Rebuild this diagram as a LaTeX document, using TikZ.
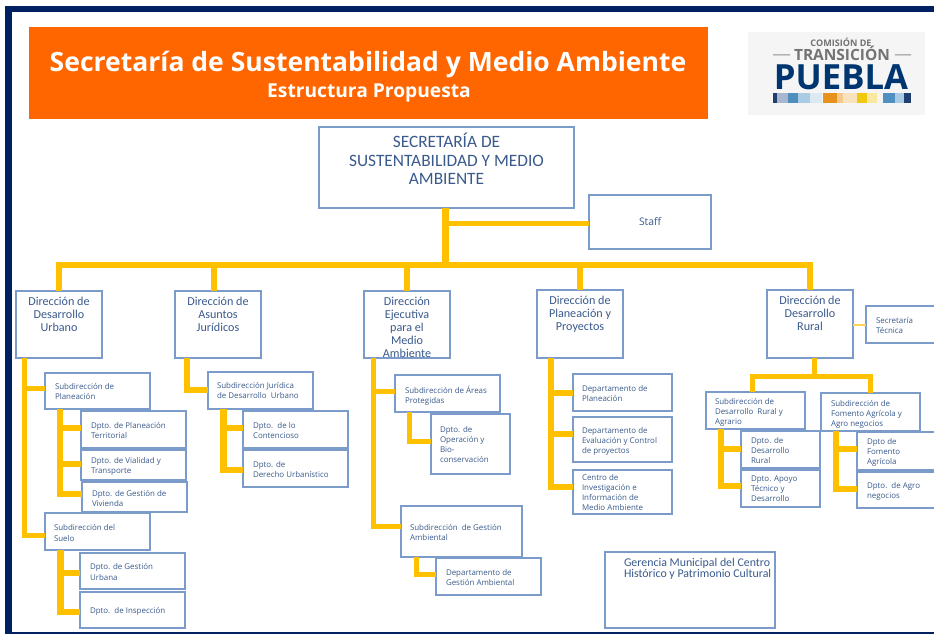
\documentclass[tikz,border=0pt]{standalone}
\usepackage{fontspec}
\setmainfont{Open Sans}
\newfontfamily\osans{Open Sans}
\newfontfamily\carl{Carlito}
\newlength\px \setlength\px{0.75pt}
\definecolor{navy}{HTML}{002060}
\definecolor{gold}{HTML}{FFC000}
\definecolor{bord}{HTML}{7B9CCB}
\definecolor{ink}{HTML}{3A5A8C}
\definecolor{banner}{HTML}{FF6600}
\tikzset{
  boxbase/.style={draw=bord,line width=1.2*\px,fill=white,inner sep=0pt,outer sep=0pt,anchor=north west,text=ink},
  small/.style={boxbase,font={\osans\fontsize{5.95}{7.5}\selectfont}},
  staffbox/.style={boxbase,font={\osans\fontsize{7.8}{9}\selectfont}},
  direc/.style={boxbase,font={\carl\fontsize{9.1}{9.85}\selectfont}},
  head/.style={boxbase,font={\carl\fontsize{13}{13.9}\selectfont}},
  geren/.style={boxbase,font={\carl\fontsize{8.9}{8.8}\selectfont}},
  bar/.style={draw=gold,line width=5*\px},
  barw/.style={draw=gold,line width=6.5*\px},
  barthin/.style={draw=gold!70,line width=2*\px},
  logotxt/.style={inner sep=0pt},
}
% [style]{name}{x1}{y1}{x2}{y2}{text x offset}{text y offset}{text}
\newcommand\bx[9][small]{%
  \node[#1] (#2) at (#3,#4) {\parbox[t][\dimexpr\numexpr#6-#4\relax\px\relax][t]{\dimexpr\numexpr#5-#3\relax\px\relax}{%
    \vspace*{#8\px}\raggedright\leftskip=#7\px\relax #9}};}
% [style]{from}{dx along its lower edge}{to}{dy down its left edge}
\newcommand\tie[5][bar]{\draw[#1] ([shift={(#3,0)}]#2.south west) |- ([shift={(0,#5)}]#4.north west);}
\begin{document}
\begin{tikzpicture}[x=0.75pt,y=-0.75pt]
\useasboundingbox (0,0) rectangle (934,634);
\fill[white] (0,0) rectangle (934,634);
% frame
\fill[navy] (5,6) rectangle (934,12.5);
\fill[navy] (5,6) rectangle (12,634);
\fill[navy] (5,631.5) rectangle (934,633.5);
% banner
\node[fill=banner,minimum width=679*\px,minimum height=92*\px,inner sep=0pt,anchor=north west] (banner) at (29,27) {};
\node[text=white,inner sep=0pt,anchor=base,font={\osans\bfseries\fontsize{19.9}{22}\selectfont}] (title) at (368,71.5) {Secretaría de Sustentabilidad y Medio Ambiente};
\node[text=white,inner sep=0pt,anchor=base,font={\osans\bfseries\fontsize{14.4}{16}\selectfont}] (subtitle) at (369,98) {Estructura Propuesta};
% logo
\fill[black!4] (748,32) rectangle (925,115);
\node[logotxt,text=black!55,anchor=base,font={\osans\bfseries\fontsize{6.8}{7}\selectfont}] (lg1) at (841,46.5) {COMISIÓN DE};
\node[logotxt,text=black!55,anchor=base,font={\osans\bfseries\fontsize{11.6}{13}\selectfont}] (lg2) at (842,60.5) {TRANSICIÓN};
\fill[black!45] (773,54.5) rectangle (790,55.5) (895,54.5) rectangle (911,55.5);
\node[logotxt,text=navy!90!cyan,anchor=base,font={\osans\bfseries\fontsize{26}{27}\selectfont}] (lg3) at (841,90) {PUEBLA};
\foreach \a/\b/\c in {773/777/1F3F6E,777/788/A8B6D0,788/798/4F8FC0,798/810/A9CBE3,810/822/DCE9F2,823/837/E8921E,837/843/F5C88E,843/857/F9E2BE,857/867/F2C80F,867/877/F9E9A0,883/895/5090C0,895/904/A9CBE3,904/911/1F3F6E}{
  \definecolor{tmpc}{HTML}{\c}\fill[tmpc] (\a,93) rectangle (\b,103);}
% top
\bx[head]{sec}{319}{127}{574}{208}{0}{6}{\centering SECRETARÍA DE\\SUSTENTABILIDAD Y MEDIO\\AMBIENTE}
\bx[staffbox]{staff}{589}{195}{711}{249}{50}{23}{Staff}
% direcciones
\bx[direc]{dirU}{16}{291}{102}{358}{0}{6}{\centering Dirección de\\Desarrollo\\Urbano}
\bx[direc]{dirA}{175}{291}{261}{358}{0}{6}{\centering Dirección de\\Asuntos\\Jurídicos}
\bx[direc]{dirE}{364}{291}{450}{358}{0}{6}{\centering Dirección\\Ejecutiva\\para el\\Medio\\Ambiente}
\bx[direc]{dirP}{537}{290}{623}{358}{0}{6}{\centering Dirección de\\Planeación y\\Proyectos}
\bx[direc]{dirR}{767}{290}{853}{358}{0}{6}{\centering Dirección de\\Desarrollo\\Rural}
\bx{st}{866}{306}{945}{343}{10}{11}{Secretaría\\Técnica}
% urbano
\bx{sa}{45}{373}{150}{409}{10}{10}{Subdirección de\\Planeación}
\bx{da}{81}{411}{186}{448}{10}{11}{Dpto. de Planeación\\Territorial}
\bx{db}{81}{450}{186}{480}{10}{7}{Dpto. de Vialidad y\\Transporte}
\bx{dc}{82}{482}{187}{512}{10}{8}{Dpto. de Gestión de\\Vivienda}
\bx{sb}{45}{513}{150}{550}{9}{11}{Subdirección del\\[1pt]Suelo}
\bx{dd}{80}{553}{185}{589}{10}{10}{Dpto. de Gestión\\[1pt]Urbana}
\bx{de}{80}{592}{185}{628}{10}{15}{Dpto.\ \ de Inspección}
% juridicos
\bx{sj}{208}{372}{313}{409}{9}{10}{Subdirección Jurídica\\de Desarrollo\ \ Urbano}
\bx{df}{243}{411}{348}{448}{10}{11}{Dpto.\ \ de lo\\Contencioso}
\bx{dg}{243}{450}{348}{487}{10}{11}{Dpto. de\\Derecho Urbanístico}
% ejecutiva
\bx{sc}{395}{375}{500}{412}{10}{11}{Subdirección de Áreas\\Protegidas}
\bx{dh}{431}{414}{510}{474}{9}{12}{Dpto. de\\Operación y\\Bio-\\conservación}
\bx{sd}{401}{506}{522}{557}{9}{18}{Subdirección\ \ de Gestión\\Ambiental}
\bx{di}{436}{558}{541}{595}{10}{11}{Departamento de\\Gestión Ambiental}
% planeacion
\bx{dj}{573}{374}{672}{411}{9}{11}{Departamento de\\Planeación}
\bx{dk}{573}{417}{672}{462}{9}{10}{Departamento de\\Evaluación y Control\\de proyectos}
\bx{dl}{573}{470}{672}{514}{9}{4}{Centro de\\Investigación e\\Información de\\Medio Ambiente}
\bx[geren]{ger}{605}{552}{775}{628}{19}{6}{Gerencia Municipal del Centro\\Histórico y Patrimonio Cultural}
% rural
\bx{se}{706}{392}{805}{429}{9}{6}{Subdirección de\\Desarrollo\ \ Rural y\\Agrario}
\bx{sf}{821}{393}{920}{431}{10}{7}{Subdirección de\\Fomento Agrícola y\\Agro negocios}
\bx{dm}{741}{431}{820}{468}{10}{6}{Dpto. de\\Desarrollo\\Rural}
\bx{dn}{741}{470}{820}{507}{10}{6}{Dpto. Apoyo\\Técnico y\\Desarrollo}
\bx{do}{857}{432}{945}{470}{10}{6}{Dpto de\\Fomento\\Agrícola}
\bx{dp}{857}{472}{945}{508}{10}{10}{Dpto.\ \ de Agro\\negocios}
% main connectors
\coordinate (bus) at (445,265);
\coordinate (bus2) at (814,376);
\draw[barw] ([xshift=-1.1*\px]sec.south) -- ([xshift=-1.1*\px]sec.south |- bus);
\draw[bar] ([xshift=-1.1*\px,yshift=-16*\px]sec.south) |- ([yshift=-2*\px]staff.west);
\draw[barw] (dirU.north) |- (bus) -- (bus -| dirR.north);
\draw[barw] ([xshift=-4*\px]dirA.north) |- (bus);
\draw[barw] (dirE.north) |- (bus);
\draw[barw] (dirP.north) |- (bus);
\draw[barw] (dirR.north) |- (bus);
\draw[barthin] ([yshift=-1*\px]dirR.east) -- ([yshift=-1*\px]dirR.east -| st.west);
% rural bus
\draw[bar] ([xshift=4*\px]dirR.south) -- (bus2);
\draw[bar] ([xshift=-3.5*\px]se.north) |- (bus2);
\draw[bar] ([xshift=-0.5*\px]sf.north) |- (bus2);
% branches
\tie{dirU}{8}{sa}{15}
\tie{dirU}{8}{sb}{22}
\tie[barw]{sa}{15}{da}{17}
\tie[barw]{sa}{15}{db}{14}
\tie[barw]{sa}{15}{dc}{12}
\tie[barw]{sb}{15.5}{dd}{20}
\tie[barw]{sb}{15.5}{de}{20}
\tie[barw]{dirA}{12}{sj}{18}
\tie[barw]{sj}{15.5}{df}{17}
\tie[barw]{sj}{15.5}{dg}{20}
\tie{dirE}{9}{sc}{16}
\tie{dirE}{9}{sd}{20}
\tie{sc}{14}{dh}{27}
\tie{sd}{15}{di}{16}
\tie[barw]{dirP}{14}{dj}{19}
\tie[barw]{dirP}{14}{dk}{17}
\tie[barw]{dirP}{14}{dl}{17}
\tie[barw]{se}{15}{dm}{18}
\tie[barw]{se}{15}{dn}{16}
\tie[barw]{sf}{15}{do}{17}
\tie[barw]{sf}{15}{dp}{17}
\end{tikzpicture}
\end{document}
